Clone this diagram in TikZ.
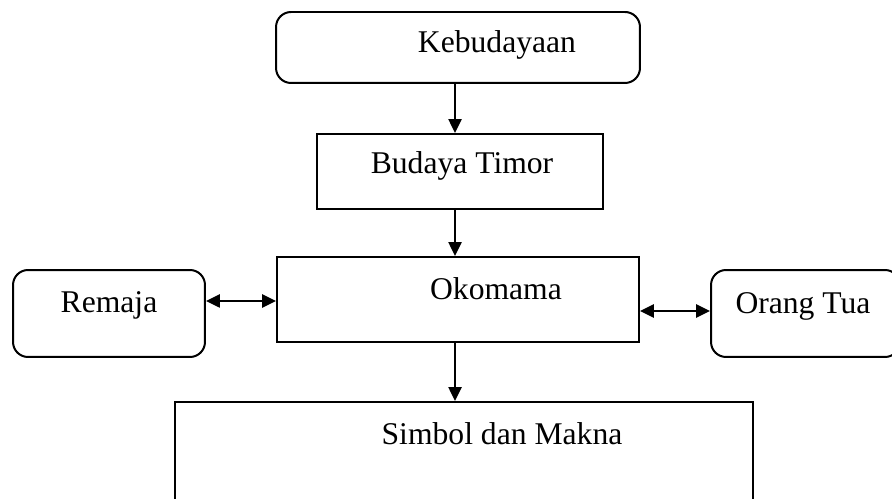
\documentclass[tikz,border=0pt]{standalone}
\usepackage{fontspec}
\setmainfont{Liberation Serif}
\usetikzlibrary{arrows.meta}
\tikzset{
	boxbase/.style={draw, line width=0.04cm, inner sep=0pt},
	roundbox/.style={boxbase, rounded corners=0.3cm},
	sharpbox/.style={boxbase},
	lbl/.style={inner sep=0pt, font=\fontsize{18}{22}\selectfont},
	flow/.style={line width=0.05cm, -{Triangle[length=0.28cm, width=0.26cm]}},
	twoway/.style={line width=0.05cm, {Triangle[length=0.28cm, width=0.26cm]}-{Triangle[length=0.28cm, width=0.26cm]}}
}

\begin{document}
\begin{tikzpicture}[x=0.02cm, y=-0.02cm]
		%%%%% START %%%%%
		\useasboundingbox (0, 0) rectangle (892, 499);
		\clip (0, 0) rectangle (892, 499);
		
		\node[roundbox, minimum width=7.28cm, minimum height=1.42cm] (keb) at (458, 47.5) {};
		\node[lbl] (kebtxt) at (497, 45) {Kebudayaan};
		
		\node[sharpbox, minimum width=5.72cm, minimum height=1.5cm] (bud) at (460, 171.5) {};
		\node[lbl] (budtxt) at (462, 166) {Budaya Timor};
		
		\node[sharpbox, minimum width=7.24cm, minimum height=1.7cm] (oko) at (458, 299.5) {};
		\node[lbl] (okotxt) at (496, 289) {Okomama};
		
		\node[roundbox, minimum width=3.84cm, minimum height=1.74cm] (rem) at (109, 313.5) {};
		\node[lbl] (remtxt) at (109, 305) {Remaja};
		
		\node[roundbox, minimum width=3.78cm, minimum height=1.74cm] (ort) at (805.5, 313.5) {};
		\node[lbl] (orttxt) at (803, 306) {Orang Tua};
		
		\node[sharpbox, minimum width=11.56cm, minimum height=2.36cm] (sim) at (464, 461) {};
		\node[lbl] (simtxt) at (502, 434) {Simbol dan Makna};
		
		% connectors
		\coordinate (axis) at (455, 0);
		\coordinate (lrow) at (0, 301);
		\coordinate (rrow) at (0, 311);
		
		\draw[flow] (keb.south -| axis) -- (bud.north -| axis);
		\draw[flow] (bud.south -| axis) -- (oko.north -| axis);
		\draw[flow] (oko.south -| axis) -- (sim.north -| axis);
		
		\draw[twoway] (rem.east |- lrow) -- (oko.west |- lrow);
		\draw[twoway] (oko.east |- rrow) -- (ort.west |- rrow);
		
		%%%%% END %%%%%
\end{tikzpicture}
\end{document}
